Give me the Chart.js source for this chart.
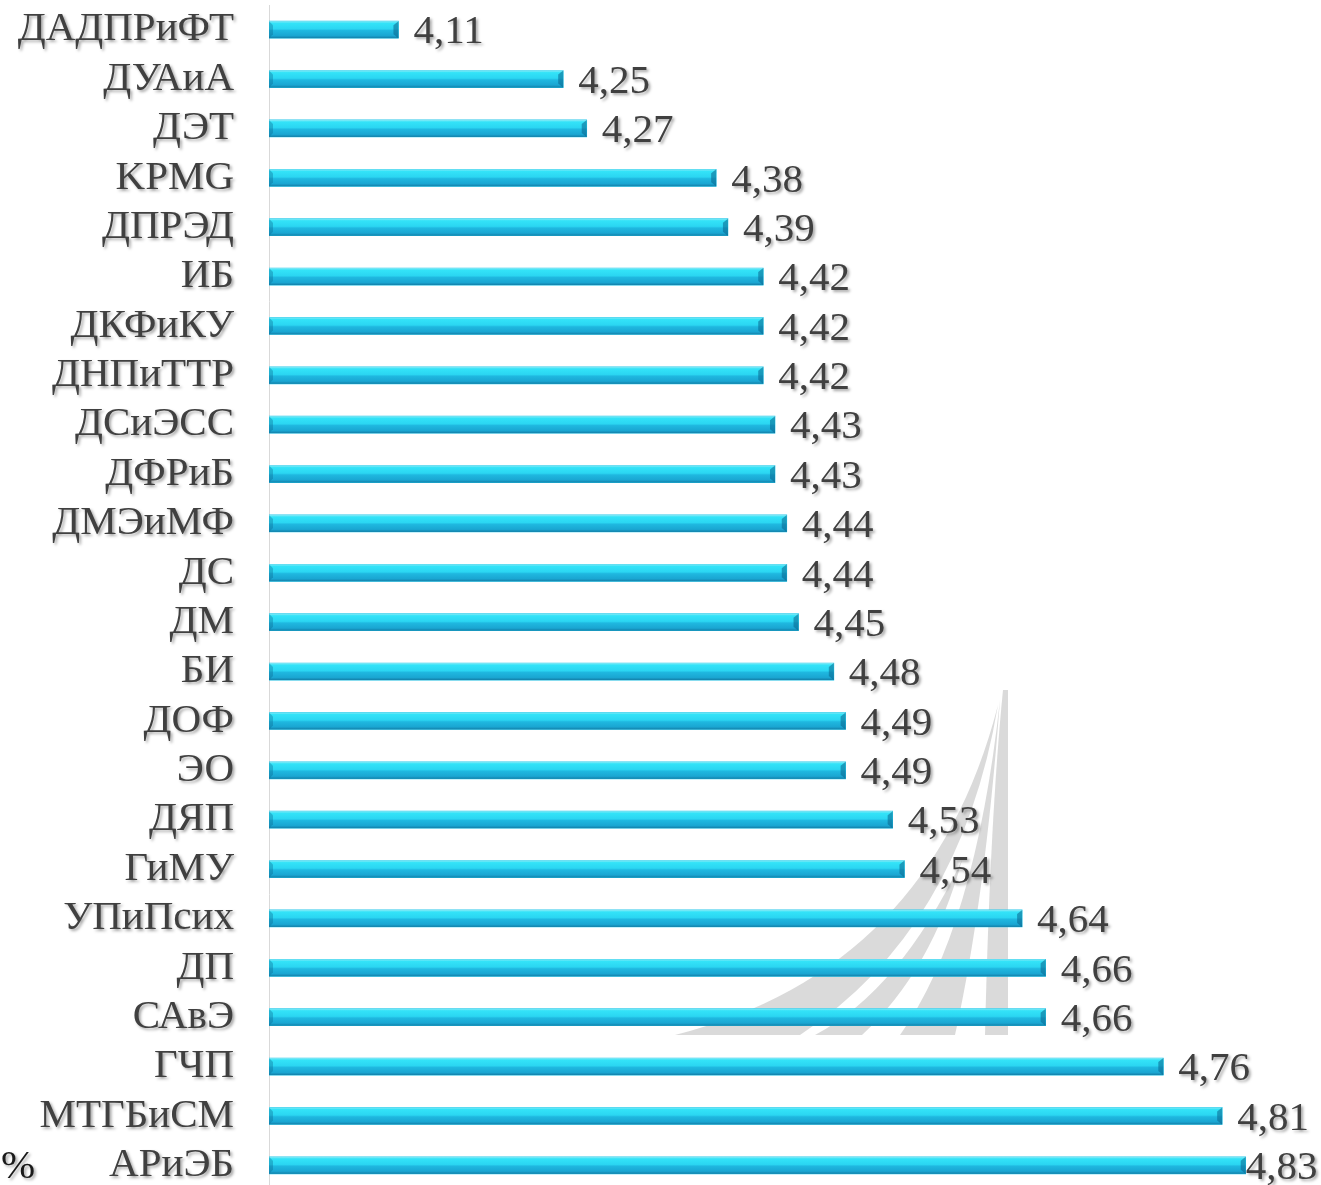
<!DOCTYPE html>
<html>
<head>
<meta charset="utf-8">
<script src="https://cdn.jsdelivr.net/npm/chart.js@4.4.1/dist/chart.umd.min.js"></script>
<style>
    html, body {
        margin: 0;
        padding: 0;
        background: #ffffff;
        overflow: hidden;
    }

    .chart-wrapper {
        position: relative;
        width: 1321px;
        height: 1185px;
        overflow: hidden;
    }
</style>
</head>
<body>
<div class="chart-wrapper">
    <canvas id="myChart" width="1321" height="1190"></canvas>
</div>

<script>
    const categories = ['ДАДПРиФТ', 'ДУАиА', 'ДЭТ', 'KPMG', 'ДПРЭД', 'ИБ', 'ДКФиКУ', 'ДНПиТТР', 'ДСиЭСС', 'ДФРиБ',
        'ДМЭиМФ', 'ДС', 'ДМ', 'БИ', 'ДОФ', 'ЭО', 'ДЯП', 'ГиМУ', 'УПиПсих', 'ДП', 'САвЭ', 'ГЧП', 'МТГБиСМ', 'АРиЭБ']
    const scores = [4.11, 4.25, 4.27, 4.38, 4.39, 4.42, 4.42, 4.42, 4.43, 4.43,
        4.44, 4.44, 4.45, 4.48, 4.49, 4.49, 4.53, 4.54, 4.64, 4.66, 4.66, 4.76, 4.81, 4.83]
    const axisMin = 4
    const axisMax = 4.894
    const unitLabel = '%'

    const FONT = '41px "Liberation Serif", "DejaVu Serif", serif'

    // grey logo in the background, purely decorative
    const watermark = {
        id: 'watermark',
        beforeDatasetsDraw(chart) {
            const c = chart.ctx
            c.save()
            c.fillStyle = 'rgba(205, 205, 205, 0.75)'
            // right vertical band
            c.beginPath()
            c.moveTo(1003, 690)
            c.lineTo(1008, 690)
            c.lineTo(1008, 1035)
            c.lineTo(985, 1035)
            c.quadraticCurveTo(990, 820, 1003, 690)
            c.fill()
            // middle swoosh
            c.beginPath()
            c.moveTo(1000, 700)
            c.quadraticCurveTo(975, 930, 900, 1035)
            c.lineTo(955, 1035)
            c.quadraticCurveTo(985, 900, 1000, 700)
            c.fill()
            // outer swoosh
            c.beginPath()
            c.moveTo(998, 705)
            c.quadraticCurveTo(930, 970, 675, 1035)
            c.lineTo(800, 1035)
            c.quadraticCurveTo(960, 930, 998, 705)
            c.fill()
            // small inner swoosh
            c.beginPath()
            c.moveTo(962, 860)
            c.quadraticCurveTo(900, 990, 815, 1035)
            c.lineTo(862, 1035)
            c.quadraticCurveTo(932, 970, 962, 860)
            c.fill()
            c.restore()
        }
    }

    // glossy bars, category names and value labels
    const barLook = {
        id: 'barLook',
        afterDatasetsDraw(chart) {
            const c = chart.ctx
            const meta = chart.getDatasetMeta(0)
            const yScale = chart.scales.y
            const area = chart.chartArea

            meta.data.forEach((bar, i) => {
                const left = Math.max(bar.base, area.left)
                const right = bar.x
                const top = bar.y - bar.height / 2
                const h = bar.height

                const g = c.createLinearGradient(0, top, 0, top + h)
                g.addColorStop(0, '#8aeaf6')
                g.addColorStop(0.12, '#33e3f8')
                g.addColorStop(0.45, '#2bd6f2')
                g.addColorStop(0.55, '#1fb8e0')
                g.addColorStop(0.85, '#1aa6d2')
                g.addColorStop(1, '#137fa8')
                c.save()
                c.fillStyle = g
                c.fillRect(left, top, right - left, h)

                // bevel on the right end
                c.fillStyle = 'rgba(10, 100, 140, 0.55)'
                c.beginPath()
                c.moveTo(right, top)
                c.lineTo(right, top + h)
                c.lineTo(right - 5, top + h - 4)
                c.lineTo(right - 5, top + 4)
                c.closePath()
                c.fill()
                // bevel on the left end
                c.fillStyle = 'rgba(10, 100, 140, 0.35)'
                c.beginPath()
                c.moveTo(left, top)
                c.lineTo(left + 4, top + 4)
                c.lineTo(left + 4, top + h - 4)
                c.lineTo(left, top + h)
                c.closePath()
                c.fill()
                c.restore()

                // value label
                c.save()
                c.font = FONT
                c.textBaseline = 'middle'
                c.textAlign = 'left'
                c.shadowColor = 'rgba(0, 0, 0, 0.35)'
                c.shadowOffsetX = 2
                c.shadowOffsetY = 2
                c.shadowBlur = 3
                c.fillStyle = '#404040'
                const txt = scores[i].toFixed(2).replace('.', ',')
                const w = c.measureText(txt).width
                let x = right + 15
                if (x + w > chart.width - 2) x = right
                c.fillText(txt, x, bar.y + 3)
                c.restore()
            })

            // category names
            c.save()
            c.font = FONT
            c.textBaseline = 'middle'
            c.textAlign = 'right'
            c.shadowColor = 'rgba(0, 0, 0, 0.35)'
            c.shadowOffsetX = 2
            c.shadowOffsetY = 2
            c.shadowBlur = 3
            c.fillStyle = '#404040'
            categories.forEach((name, i) => {
                c.fillText(name, 234, yScale.getPixelForValue(i))
            })
            c.textAlign = 'left'
            c.fillStyle = '#1a1a1a'
            c.fillText(unitLabel, 1, yScale.getPixelForValue(categories.length - 1) + 2)
            c.restore()
        }
    }

    const data = {
        labels: categories,
        datasets: [{
            label: 'score',
            data: scores,
            backgroundColor: '#22c6ea',
            borderWidth: 0,
            barThickness: 17,
        }]
    }

    const config = {
        type: 'bar',
        data: data,
        options: {
            indexAxis: 'y',
            responsive: false,
            animation: false,
            layout: {
                padding: { top: 5, bottom: 0, left: 0, right: 0 }
            },
            plugins: {
                legend: { display: false },
                tooltip: { enabled: false }
            },
            scales: {
                x: {
                    display: false,
                    min: axisMin,
                    max: axisMax
                },
                y: {
                    grid: { display: false },
                    border: { display: true, color: '#d9d9d9', width: 1 },
                    ticks: { display: false },
                    afterFit(scale) {
                        scale.width = 269
                    }
                }
            }
        },
        plugins: [watermark, barLook]
    }

    const ctx = document.getElementById('myChart')
    const myChart = new Chart(ctx, config)
</script>
</body>
</html>
